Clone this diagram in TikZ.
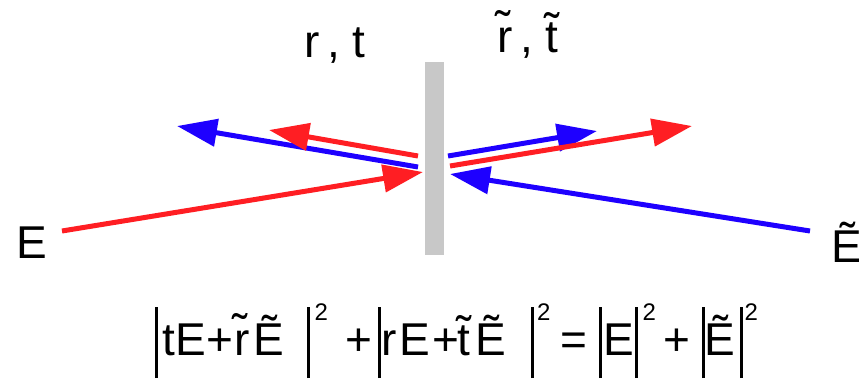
\documentclass[tikz,border=0pt]{standalone}
\usepackage{fontspec}
\setmainfont{Liberation Sans}
\usetikzlibrary{arrows.meta}
\definecolor{beamred}{RGB}{255,30,35}
\definecolor{beamblue}{RGB}{30,0,255}
\definecolor{slabgray}{RGB}{200,200,200}
\newcommand{\absbar}{\rule[-23pt]{3pt}{71pt}}
\newcommand{\supsq}{\raisebox{35pt}{\fontsize{24}{24}\selectfont 2}}
% put #2 at #1 pt from the start of the line
\newcommand{\placeat}[2]{\rlap{\hspace*{#1pt}#2}}

\begin{document}
\begin{tikzpicture}[
      x=1pt, y=-1pt,
      lbl/.style={font=\fontsize{46}{55}\selectfont, inner sep=0pt},
      slab/.style={fill=slabgray, draw=none, minimum width=19pt, minimum height=193pt, inner sep=0pt},
      ray/.style={line width=5pt, -{Triangle[length=40pt, width=27pt]}},
      rred/.style={ray, draw=beamred, fill=beamred},
      rblue/.style={ray, draw=beamblue, fill=beamblue}
    ]
    \useasboundingbox (0,0) rectangle (859,381);

    % ---- the beam splitter ----
    \node[slab] (splitter) at (434.5,158.5) {};

    % ---- end points of the beams ----
    \coordinate (Ein0) at (62,231);
    \coordinate (Ein1) at (423,172);
    \coordinate (Ebk0) at (418,167);
    \coordinate (Ebk1) at (177,126);
    \coordinate (rE0) at (418,156);
    \coordinate (rE1) at (269,130);
    \coordinate (tE0) at (448,156);
    \coordinate (tE1) at (597,131);
    \coordinate (tr0) at (450,166);
    \coordinate (tr1) at (692,126);
    \coordinate (Ebin0) at (810,231);
    \coordinate (Ebin1) at (450,174);

    % ---- beams ----
    \draw[rred] (Ein0) -- (Ein1);
    \draw[rblue] (Ebk0) -- (Ebk1);
    \draw[rred] (rE0) -- (rE1);
    \draw[rblue] (tE0) -- (tE1);
    \draw[rred] (tr0) -- (tr1);
    \draw[rblue] (Ebin0) -- (Ebin1);

    % ---- labels ----
    \node[lbl, anchor=base west] (Eleft) at (16,258) {E};
    \node[lbl, anchor=base west] (Eright) at (831,262) {\~E};
    \node[lbl, anchor=base west] (coefs) at (304,57) {r\,, t};
    \node[lbl, anchor=base west] (coefstil) at (497,52) {\~r\,, \~t};

    % ---- energy balance ----
    \node[lbl, anchor=base west] (balance) at (155,355) {\makebox[605pt][l]{%
      \placeat{0}{\absbar}\placeat{7}{t}\placeat{20.4}{E}\placeat{51.7}{+}%
      \placeat{79}{\~r}\placeat{98.4}{\~E}\placeat{152}{\absbar}\placeat{159.3}{\supsq}%
      \placeat{190.7}{+}%
      \placeat{223}{\absbar}\placeat{226}{r}\placeat{244.4}{E}\placeat{277}{+}%
      \placeat{302.5}{\~t}\placeat{320}{\~E}\placeat{376}{\absbar}\placeat{382}{\supsq}%
      \placeat{405.7}{=}%
      \placeat{444}{\absbar}\placeat{448.4}{E}\placeat{480}{\absbar}\placeat{487.3}{\supsq}%
      \placeat{508.7}{+}%
      \placeat{547}{\absbar}\placeat{549.4}{\~E}\placeat{585}{\absbar}\placeat{589.3}{\supsq}}};
  \end{tikzpicture}
\end{document}
